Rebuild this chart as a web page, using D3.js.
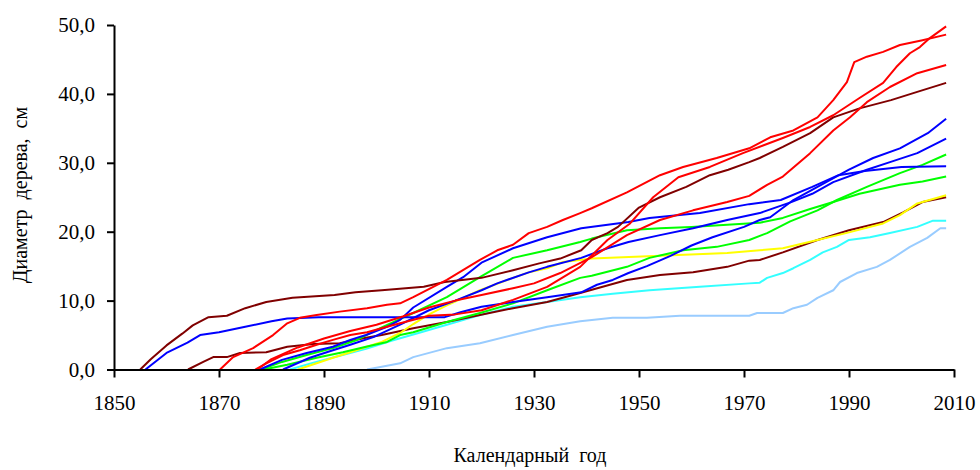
<!DOCTYPE html>
<html>
<head>
<meta charset="utf-8">
<script src="https://cdn.jsdelivr.net/npm/d3@7"></script>
<style>
  html, body { margin: 0; padding: 0; background: #fff; }
  svg { display: block; }
  svg text { font-family: 'Liberation Serif', 'DejaVu Serif', 'Times New Roman', Times, serif !important; fill: #000; }
</style>
</head>
<body>
<svg id="chart" width="980" height="470"></svg>
<script>
// ---------- data (year, diameter cm) ----------
const xTicks = [1850, 1870, 1890, 1910, 1930, 1950, 1970, 1990, 2010];
const yTicks = [0, 10, 20, 30, 40, 50];
const xTitle = "Календарный  год";
const yTitle = "Диаметр  дерева,  см";

const lightBlueTree = [[1898.2,0],[1901,0.4],[1904.5,0.9],[1907,1.8],[1913.4,3.1],[1919.7,3.8],[1926,5.0],[1932.5,6.2],[1938.8,7.0],[1945,7.5],[1951.5,7.5],[1957.8,7.8],[1971,7.8],[1972.5,8.2],[1977.4,8.2],[1979.4,8.9],[1982,9.4],[1984,10.4],[1987,11.5],[1988.3,12.7],[1991.5,14.0],[1995.3,14.9],[1997.8,15.9],[2001.6,17.8],[2004.9,19.1],[2007.4,20.5],[2008.5,20.5]];
const cyanTree = [[1883.5,0],[1888,1.0],[1893,2.0],[1898,3.0],[1903,4.2],[1908,5.3],[1913.4,6.5],[1919.7,7.9],[1926,9.1],[1932.5,9.8],[1938.8,10.5],[1945,11.0],[1952,11.5],[1961.6,12.0],[1971,12.5],[1973,12.6],[1974.4,13.3],[1977.4,14.0],[1979.4,14.7],[1982.6,15.9],[1985,17.0],[1987.7,17.8],[1990,18.8],[1994,19.2],[1997.8,19.8],[2003,20.7],[2006,21.6],[2008.5,21.6]];
const maroonTree2 = [[1864.1,0],[1867,1.1],[1868.9,1.8],[1871.5,1.8],[1874,2.4],[1879,2.5],[1883,3.3],[1888,3.7],[1893,3.8],[1898,4.6],[1901,5.0],[1907,6.0],[1913.4,6.9],[1919.7,7.9],[1926,8.9],[1932.5,9.8],[1938.8,11.1],[1947.7,13.0],[1954,13.7],[1960.3,14.1],[1966.8,14.9],[1971,15.8],[1973,15.9],[1977.4,17.0],[1984,18.8],[1990,20.2],[1996.5,21.4],[2000.3,22.8],[2004,24.3],[2008.5,25.0]];
const yellowTree = [[1885,0],[1888.6,0.9],[1891.7,1.7],[1895,2.5],[1898.2,3.3],[1901,4.0],[1904.5,5.3],[1907,6.6],[1910,8.0],[1913.4,9.3],[1919.7,11.5],[1926,13.3],[1929,14.1],[1932.5,14.7],[1935.5,15.6],[1938.8,15.9],[1941,16.1],[1954,16.5],[1966.8,16.9],[1973,17.3],[1977.4,17.6],[1984,18.8],[1990,19.9],[1996.5,21.2],[1999.7,22.4],[2003,24.1],[2008.5,25.3]];
const greenTree1 = [[1878,0],[1882,1.1],[1886.7,2.1],[1891.7,3.1],[1896,4.2],[1900.7,6.0],[1907,8.2],[1913.4,10.5],[1919.7,13.4],[1926,16.2],[1932.5,17.3],[1938.8,18.5],[1941,19.0],[1947.7,20.2],[1954,20.5],[1960,20.7],[1966.8,21.0],[1973,21.3],[1977.4,22.0],[1982.6,23.3],[1987,24.3],[1992,25.5],[1999.7,26.8],[2004,27.3],[2008.5,28.0]];
const greenTree2 = [[1878.5,0],[1883,0.7],[1888.6,1.7],[1893.6,2.5],[1898,3.3],[1902,4.0],[1904.5,5.0],[1907,5.4],[1913.4,6.9],[1919.7,8.2],[1926,9.6],[1932.5,11.5],[1938.8,13.3],[1941,13.6],[1947.7,14.9],[1952,16.2],[1958.4,17.3],[1964.8,17.8],[1971,18.8],[1974.4,19.8],[1978.8,21.5],[1984,23.1],[1987.7,24.6],[1993.4,26.5],[1999.7,28.5],[2004,29.7],[2008.5,31.2]];
const blueTree1 = [[1856,0],[1858,1.2],[1860,2.4],[1864,3.9],[1866.4,5.0],[1870,5.4],[1875,6.2],[1880,7.0],[1883,7.4],[1889,7.6],[1913,7.6],[1916,8.3],[1920,9.1],[1926,9.8],[1932.5,10.5],[1939,11.2],[1942,12.3],[1945,13.0],[1948,14.0],[1951.5,15.0],[1956,16.5],[1960,18.0],[1964,19.2],[1970,20.7],[1973,21.7],[1975,22.1],[1979.4,24.6],[1984,26.5],[1990,29.0],[1994.6,30.7],[1999.7,32.1],[2005,34.3],[2008.5,36.4]];
const blueTree2 = [[1877.8,0],[1882,1.4],[1886.7,2.4],[1891.7,3.3],[1895,4.3],[1898,5.0],[1902,6.2],[1904.5,7.2],[1907,9.0],[1913.4,12.0],[1916.5,13.4],[1920,15.5],[1926,17.6],[1932.5,19.2],[1939,20.5],[1948,21.4],[1952,22.0],[1961.6,22.7],[1971,24.0],[1977,24.6],[1983,26.5],[1988,28.2],[1993,28.8],[2000,29.4],[2008.5,29.5]];
const blueTree3 = [[1882.2,0],[1887.3,1.7],[1891.7,2.8],[1895,3.6],[1899.4,4.7],[1904.5,6.5],[1910,8.6],[1915,10.0],[1920,11.5],[1923,12.5],[1929,14.1],[1932.5,14.9],[1939,16.2],[1944,17.6],[1948,18.5],[1954,19.5],[1960.3,20.5],[1966.8,21.7],[1973,22.7],[1979,24.3],[1983,25.5],[1987,27.2],[1993.4,29.0],[1997.8,30.1],[2003,31.4],[2008.5,33.5]];
const maroonTree1 = [[1855,0],[1857,1.5],[1860,3.5],[1863,5.2],[1865,6.4],[1868,7.6],[1871.5,7.8],[1875,8.9],[1879,9.8],[1884,10.4],[1892,10.8],[1896,11.2],[1901,11.5],[1909,12.0],[1913,12.7],[1920,13.3],[1926,14.4],[1931,15.4],[1935,16.1],[1939,17.3],[1941,18.8],[1944,19.8],[1946,20.7],[1950,23.5],[1954,25.0],[1959,26.5],[1963.5,28.2],[1967,29.0],[1971,30.1],[1973,30.7],[1977.4,32.3],[1982.6,34.3],[1987,36.6],[1992,37.9],[1998,39.1],[2003,40.3],[2008.5,41.6]];
const redTree1 = [[1870.2,0],[1872.7,1.8],[1876.5,3.1],[1880.3,5.0],[1883,6.7],[1885.4,7.5],[1888.6,7.9],[1893,8.4],[1898.2,8.9],[1902,9.4],[1904.5,9.6],[1907,10.5],[1913.4,13.0],[1919.7,15.9],[1923,17.3],[1926,18.1],[1929,19.8],[1932.5,20.7],[1935.5,21.7],[1938.8,22.7],[1941,23.4],[1947.7,25.7],[1954,28.2],[1958.4,29.4],[1964.8,30.7],[1971,32.1],[1975,33.7],[1979.4,34.7],[1984,36.6],[1987,39.1],[1989.6,41.7],[1991,44.6],[1993.4,45.4],[1996.5,46.1],[1999.7,47.1],[2004,47.8],[2008.5,48.6]];
const redTree2 = [[1876.9,0],[1879,0.9],[1882.2,2.1],[1885.4,2.8],[1888.6,3.6],[1891.7,4.3],[1895,5.0],[1898.2,5.4],[1902,6.2],[1904.5,6.7],[1910,7.8],[1915,8.0],[1920,8.6],[1926,10.1],[1932.5,12.0],[1938.8,14.9],[1944,18.8],[1948.3,21.2],[1952.7,25.0],[1957.5,27.9],[1963.5,29.4],[1969.8,31.4],[1977.4,33.6],[1982.6,35.2],[1987,36.9],[1992,39.4],[1996.5,41.6],[1999,43.9],[2001.6,45.9],[2003.5,46.8],[2005.4,48.1],[2008.5,49.8]];
const redTree3 = [[1877.3,0],[1880,1.5],[1885,3.2],[1890,4.5],[1895,5.6],[1900,6.5],[1905,7.7],[1910,9.0],[1915,10.0],[1920,10.8],[1926,11.8],[1930,12.5],[1935,14.0],[1941,16.3],[1947.7,19.5],[1954,21.7],[1960.3,23.1],[1966.8,24.3],[1971,25.2],[1974.4,26.8],[1977.4,28.0],[1982.6,31.4],[1987,34.7],[1990.2,36.6],[1993.4,38.8],[1997.8,41.0],[2003,43.0],[2008.5,44.2]];

const seriesList = [
  { data: lightBlueTree, color: "#99CCFF" },
  { data: cyanTree,      color: "#33FFFF" },
  { data: maroonTree2,   color: "#800000" },
  { data: yellowTree,    color: "#FFFF00" },
  { data: greenTree1,    color: "#00FF00" },
  { data: greenTree2,    color: "#00FF00" },
  { data: blueTree1,     color: "#0000FF" },
  { data: blueTree2,     color: "#0000FF" },
  { data: blueTree3,     color: "#0000FF" },
  { data: maroonTree1,   color: "#800000" },
  { data: redTree3,      color: "#FF0000" },
  { data: redTree1,      color: "#FF0000" },
  { data: redTree2,      color: "#FF0000" }
];

// ---------- drawing ----------
const FONT = "'Liberation Serif', 'DejaVu Serif', 'Times New Roman', Times, serif";
const svg = d3.select("#chart");
const x = d3.scaleLinear().domain([1850, 2010]).range([114, 954]);
const y = d3.scaleLinear().domain([0, 50]).range([369.5, 25]);

const line = d3.line().x(d => x(d[0])).y(d => y(d[1]));

svg.append("g").selectAll("path")
  .data(seriesList)
  .join("path")
  .attr("d", s => line(s.data))
  .attr("fill", "none")
  .attr("stroke", s => s.color)
  .attr("stroke-width", 2)
  .attr("stroke-linejoin", "round");

const fmtY = d => d3.format(".1f")(d).replace(".", ",");

const yAxis = svg.append("g")
  .attr("transform", "translate(114,0)")
  .call(d3.axisLeft(y).tickValues(yTicks).tickFormat(fmtY).tickSize(7).tickSizeOuter(0).tickPadding(12));

const xAxis = svg.append("g")
  .attr("transform", "translate(0,369.5)")
  .call(d3.axisBottom(x).tickValues(xTicks).tickFormat(d3.format("d")).tickSize(8).tickSizeOuter(0).tickPadding(18));

[yAxis, xAxis].forEach(g => {
  g.attr("font-family", null).style("font-family", FONT);
  g.selectAll("path.domain").attr("stroke", "#000").attr("stroke-width", 2);
  g.selectAll(".tick line").attr("stroke", "#000").attr("stroke-width", 2);
  g.selectAll(".tick text").style("font-family", FONT).attr("font-size", 21).attr("fill", "#000");
});

svg.append("text")
  .attr("transform", "translate(27,195) rotate(-90)")
  .attr("text-anchor", "middle")
  .attr("font-size", 20)
  .style("font-family", FONT)
  .style("white-space", "pre")
  .text(yTitle);

svg.append("text")
  .attr("x", 530)
  .attr("y", 462)
  .attr("text-anchor", "middle")
  .attr("font-size", 20)
  .style("font-family", FONT)
  .style("white-space", "pre")
  .text(xTitle);
</script>
</body>
</html>
